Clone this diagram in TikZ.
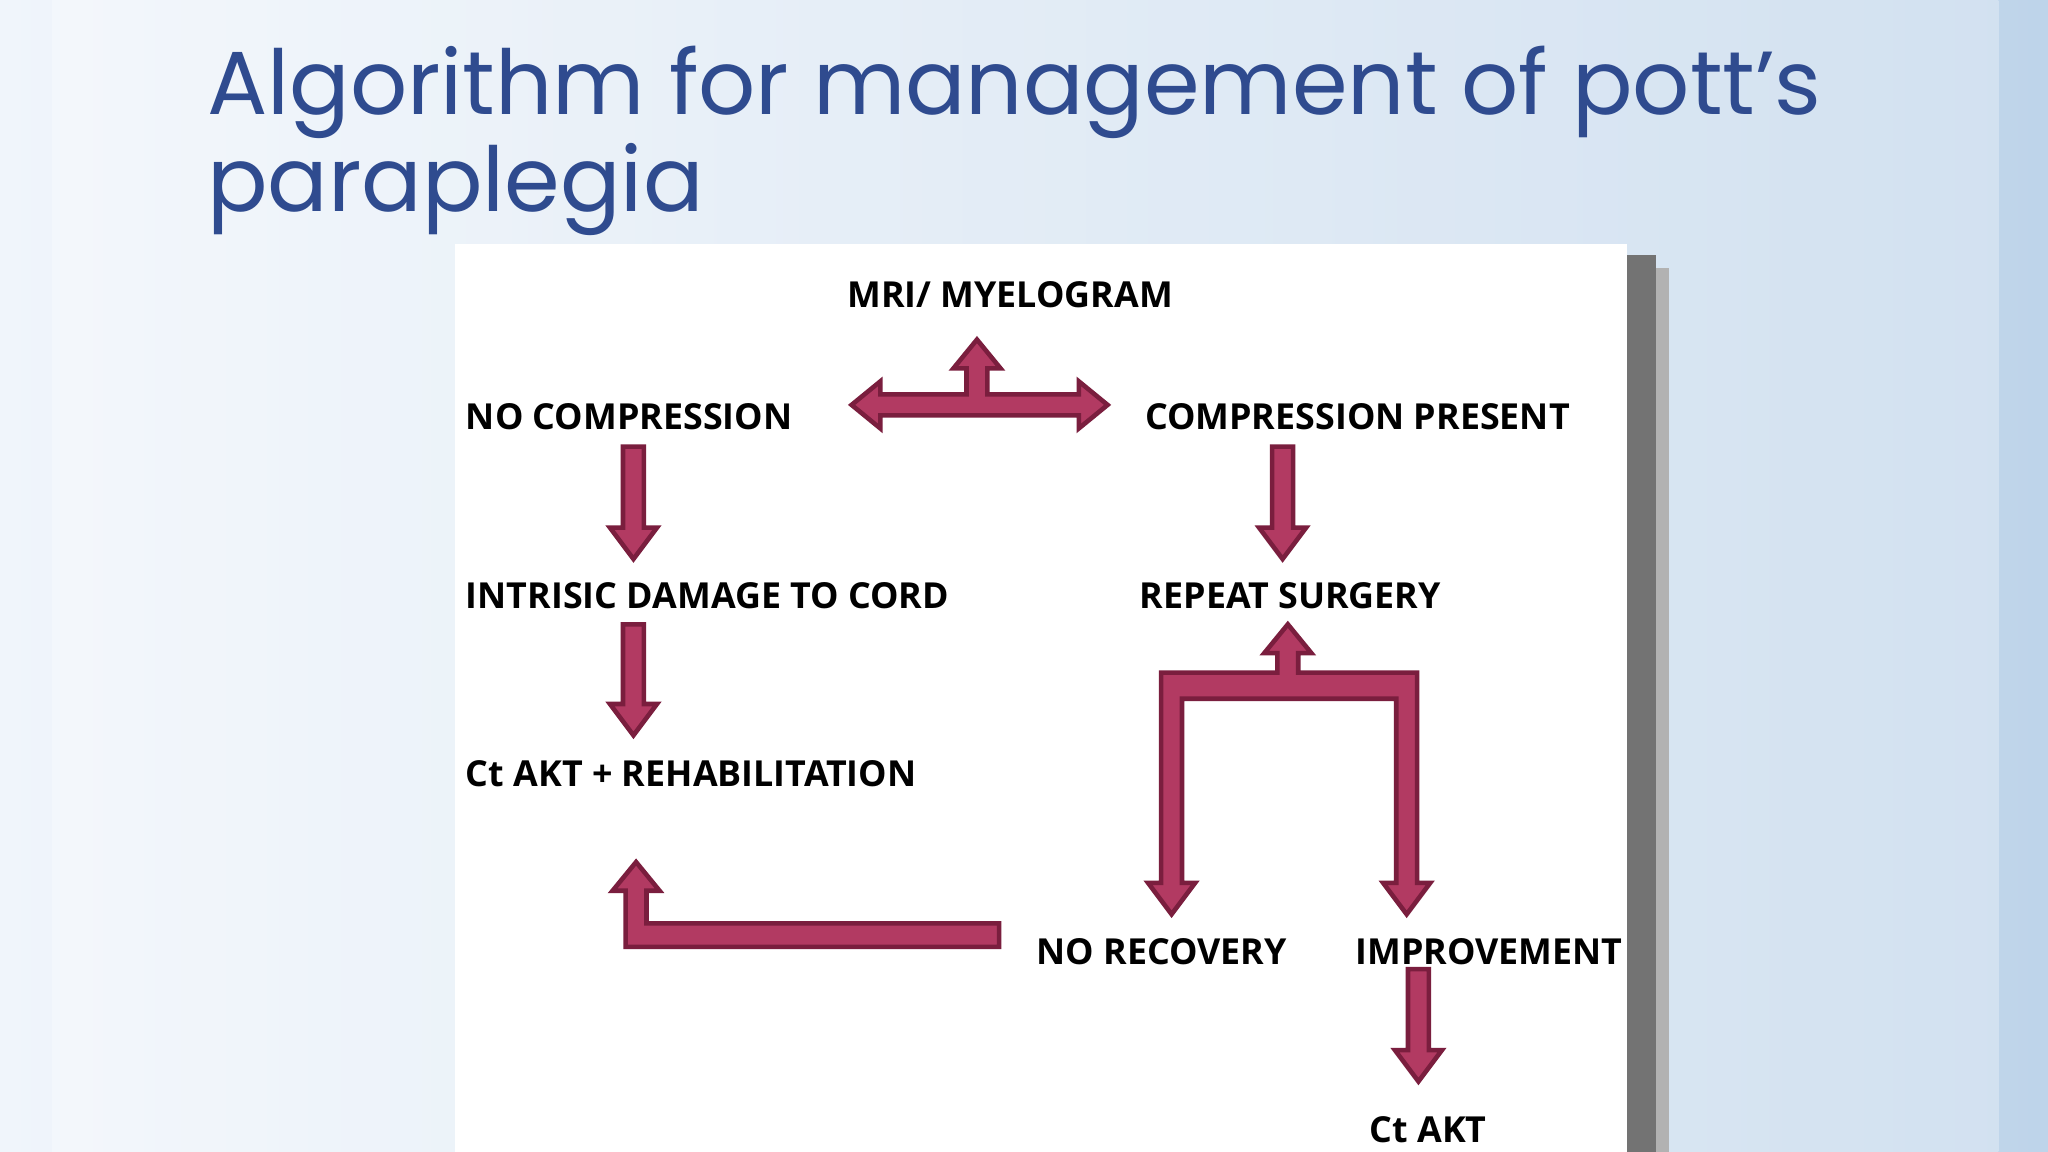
\documentclass[tikz,border=0pt]{standalone}
\usepackage{fontspec}
\setmainfont{Open Sans}
\newfontfamily\titlefont{Poppins}
\usetikzlibrary{shadings}
\definecolor{arr}{HTML}{B23A62}
\definecolor{arrd}{HTML}{7A1E3E}
\definecolor{ttl}{HTML}{2F4B8F}
\definecolor{bgl}{HTML}{F0F5FB}
\definecolor{bgr}{HTML}{BED4EA}
\tikzset{blk/.style={fill=arr,draw=arrd,line width=1pt,line join=miter},
lab/.style={anchor=west,inner sep=0pt,font=\fontsize{7.8}{9}\selectfont\bfseries,text=black}}
\newcommand{\darr}[3]{\path[blk] ({#1-8},#2)--({#1+8},#2)--({#1+8},{#3-24})--({#1+18},{#3-24})--(#1,#3)--({#1-18},{#3-24})--({#1-8},{#3-24})--cycle;}
\begin{document}
\begin{tikzpicture}[x=0.01cm,y=-0.01cm]
\useasboundingbox (0,0) rectangle (1568,882);
\shade[left color=bgl, right color=bgr] (0,0) rectangle (1568,882);
\shade[top color=white,bottom color=white,opacity=0.3] (40,0) rectangle (1530,882);
\fill[black!55] (1246,195) rectangle (1268,882);
\fill[black!30] (1268,205) rectangle (1278,882);
\fill[white] (348,187) rectangle (1246,882);
\node[anchor=west,inner sep=0pt,text=ttl,font=\titlefont\fontsize{19.5}{20}\selectfont,align=left] (title) at (158,108) {Algorithm for management of pott’s\\paraplegia};
\node[lab] (mri) at (648,226) {MRI/ MYELOGRAM};
\node[lab] (nc) at (356,319) {NO COMPRESSION};
\node[lab] (cp) at (876,319) {COMPRESSION PRESENT};
\node[lab] (idc) at (356,456) {INTRISIC DAMAGE TO CORD};
\node[lab] (rs) at (872,456) {REPEAT SURGERY};
\node[lab] (ctr) at (356,592) {Ct AKT + REHABILITATION};
\node[lab] (nr) at (793,729) {NO RECOVERY};
\node[lab] (imp) at (1037,729) {IMPROVEMENT};
\node[lab] (ct) at (1048,865) {Ct AKT};
% top T arrow
\path[blk] (652,310)--(674,292)--(674,302)--(740,302)--(740,282)--(730,282)--(748,260)--(766,282)--(756,282)--(756,302)--(826,302)--(826,292)--(848,310)--(826,328)--(826,318)--(674,318)--(674,328)--cycle;
\darr{485}{342}{428}
\darr{485}{478}{563}
\darr{982}{342}{428}
% bracket
\path[blk] (889,515)--(978,515)--(978,500)--(968,500)--(986,478)--(1004,500)--(994,500)--(994,515)--(1085,515)--(1085,676)--(1095,676)--(1077,700)--(1059,676)--(1069,676)--(1069,535)--(905,535)--(905,676)--(915,676)--(897,700)--(879,676)--(889,676)--cycle;
% L arrow
\path[blk] (765,707)--(765,725)--(479,725)--(479,682)--(469,682)--(487,660)--(505,682)--(495,682)--(495,707)--cycle;
\darr{1086}{742}{828}
\end{tikzpicture}
\end{document}
